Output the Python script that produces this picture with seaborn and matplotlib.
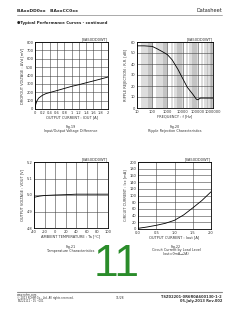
import matplotlib
matplotlib.use("Agg")
import matplotlib.pyplot as plt
import seaborn as sns
import numpy as np

# ---- data ----
fig19_iout = [0, 0.02, 0.05, 0.1, 0.2, 0.3, 0.4, 0.6, 0.8, 1.0, 1.2, 1.4, 1.6, 1.8, 2.0]
fig19_dv = [0, 55, 95, 130, 163, 184, 196, 220, 245, 270, 290, 313, 335, 358, 382]

fig20_freq = [10, 30, 100, 200, 500, 1000, 2000, 5000, 10000, 20000, 50000, 80000, 100000, 150000, 1000000]
fig20_rr = [56.5, 56.5, 56, 54, 51, 48.5, 44, 35, 27, 19, 12, 8, 7.5, 9, 9]

fig21_temp = [-40, -30, -20, 0, 20, 40, 60, 80, 100]
fig21_vout = [4.986, 4.993, 4.997, 5.0, 5.002, 5.005, 5.005, 5.005, 5.005]

fig22_iout = [0, 0.25, 0.5, 0.75, 1.0, 1.25, 1.5, 1.75, 2.0]
fig22_icc = [2, 6, 11, 17, 26, 42, 63, 85, 111]

fig19_xticks = [0, 0.2, 0.4, 0.6, 0.8, 1.0, 1.2, 1.4, 1.6, 1.8, 2.0]
fig19_xlabels = ["0", "0.2", "0.4", "0.6", "0.8", "1", "1.2", "1.4", "1.6", "1.8", "2"]
fig20_xticks = [10, 100, 1000, 10000, 100000, 1000000]
fig20_xlabels = ["10", "100", "1000", "10000", "100000", "1000000"]

sns.set_style("white")
plt.rcParams['font.family'] = ['DejaVu Sans', 'Noto Sans CJK JP']
plt.rcParams['axes.unicode_minus'] = False

W, H = 240, 310
fig = plt.figure(figsize=(W / 100, H / 100), dpi=100)
fig.patch.set_facecolor("white")


def box(x0, y0, x1, y1):
    return [x0 / W, 1 - y1 / H, (x1 - x0) / W, (y1 - y0) / H]


def fx(x, y):
    return x / W, 1 - y / H


FS = 2.6


def style(ax):
    for s in ax.spines.values():
        s.set_color("black")
        s.set_linewidth(0.6)
    ax.tick_params(length=0, pad=1.2, labelsize=FS, colors="#333333")
    ax.grid(True, which="major", color="#444444", linewidth=0.4)
    ax.set_axisbelow(True)


# Fig 19
ax1 = fig.add_axes(box(35, 42, 108, 109))
sns.lineplot(x=fig19_iout, y=fig19_dv, ax=ax1, color="black", linewidth=0.6, sort=False)
ax1.set_xlim(0, 2)
ax1.set_ylim(0, 800)
ax1.set_xticks(fig19_xticks)
ax1.set_xticklabels(fig19_xlabels)
ax1.set_yticks(range(0, 801, 100))
style(ax1)
ax1.set_xlabel("OUTPUT CURRENT : IOUT [A]", fontsize=FS, labelpad=0.8, color="#333333")
ax1.set_ylabel("DROPOUT VOLTAGE : ΔVd [mV]", fontsize=FS, labelpad=1.5, color="#333333")
ax1.text(1.0, 1.01, "[BA50DD0WT]", transform=ax1.transAxes, ha="right", va="bottom", fontsize=FS, color="#333333")

# Fig 20
ax2 = fig.add_axes(box(137, 42, 213, 108))
sns.lineplot(x=fig20_freq, y=fig20_rr, ax=ax2, color="black", linewidth=0.6, sort=False)
ax2.set_xscale("log")
ax2.set_xlim(10, 1000000)
ax2.set_ylim(0, 60)
ax2.set_yticks(range(0, 61, 10))
style(ax2)
ax2.set_xticks(fig20_xticks)
ax2.set_xticklabels(fig20_xlabels)
ax2.xaxis.set_minor_locator(matplotlib.ticker.LogLocator(base=10, subs=np.arange(2, 10)))
ax2.xaxis.set_minor_formatter(matplotlib.ticker.NullFormatter())
ax2.tick_params(which="minor", length=0)
ax2.grid(True, which="minor", axis="x", color="#777777", linewidth=0.35)
ax2.set_xlabel("FREQUENCY : f [Hz]", fontsize=FS, labelpad=0.8, color="#333333")
ax2.set_ylabel("RIPPLE REJECTION : R.R. [dB]", fontsize=FS, labelpad=1.5, color="#333333")
ax2.text(1.0, 1.01, "[BA50DD0WT]", transform=ax2.transAxes, ha="right", va="bottom", fontsize=FS, color="#333333")

# Fig 21
ax3 = fig.add_axes(box(34, 162, 108, 228))
sns.lineplot(x=fig21_temp, y=fig21_vout, ax=ax3, color="black", linewidth=0.6, sort=False)
ax3.set_xlim(-40, 100)
ax3.set_ylim(4.8, 5.2)
ax3.set_xticks(range(-40, 101, 20))
ax3.set_yticks([4.8, 4.9, 5.0, 5.1, 5.2])
ax3.set_yticklabels(["4.8", "4.9", "5.0", "5.1", "5.2"])
style(ax3)
ax3.set_xlabel("AMBIENT TEMPERATURE : Ta [°C]", fontsize=FS, labelpad=0.8, color="#333333")
ax3.set_ylabel("OUTPUT VOLTAGE : VOUT [V]", fontsize=FS, labelpad=1.5, color="#333333")
ax3.text(1.0, 1.01, "[BA50DD0WT]", transform=ax3.transAxes, ha="right", va="bottom", fontsize=FS, color="#333333")

# Fig 22
ax4 = fig.add_axes(box(138, 162, 211, 229))
sns.lineplot(x=fig22_iout, y=fig22_icc, ax=ax4, color="black", linewidth=0.6, sort=False)
ax4.set_xlim(0, 2)
ax4.set_ylim(0, 200)
ax4.set_xticks([0, 0.5, 1.0, 1.5, 2.0])
ax4.set_xticklabels(["0.0", "0.5", "1.0", "1.5", "2.0"])
ax4.set_yticks(range(0, 201, 20))
style(ax4)
ax4.set_xlabel("OUTPUT CURRENT : Iout [A]", fontsize=FS, labelpad=0.8, color="#333333")
ax4.set_ylabel("CIRCUIT CURRENT : Icc [mA]", fontsize=FS, labelpad=1.5, color="#333333")
ax4.text(1.0, 1.01, "[BA50DD0WT]", transform=ax4.transAxes, ha="right", va="bottom", fontsize=FS, color="#333333")

# Captions
cap = dict(ha="center", va="center", fontsize=2.4, color="#333333")
fig.text(*fx(71, 127), "Fig.19", **cap)
fig.text(*fx(71, 131), "Input/Output Voltage Difference", **cap)
fig.text(*fx(175, 127), "Fig.20", **cap)
fig.text(*fx(175, 131), "Ripple Rejection Characteristics", **cap)
fig.text(*fx(71, 247), "Fig.21", **cap)
fig.text(*fx(71, 251), "Temperature Characteristics", **cap)
fig.text(*fx(176, 247), "Fig.22", **cap)
fig.text(*fx(176, 250.5), "Circuit Current by Load Level", **cap)
fig.text(*fx(176, 254), "(Iout=0mA→2A)", **cap)

# Header
fig.text(*fx(17, 11), "BAxxDD0xx   BAxxCC0xx", ha="left", va="center", fontsize=3.2, fontweight="bold", color="#222222")
fig.text(*fx(222, 11), "Datasheet", ha="right", va="center", fontsize=3.6, color="#222222")
fig.add_artist(plt.Line2D([17 / W, 222 / W], [1 - 15 / H, 1 - 15 / H], color="#888888", linewidth=0.5))
fig.text(*fx(17, 23), "●Typical Performance Curves - continued", ha="left", va="center", fontsize=2.8, fontweight="bold", color="#222222")

# Big green page number
fig.text(*fx(117, 264), "11", ha="center", va="center", fontsize=32, color="#2a8c2a",
         family=["Liberation Sans", "DejaVu Sans"])

# Footer
fig.add_artist(plt.Line2D([17 / W, 222 / W], [1 - 292 / H, 1 - 292 / H], color="#888888", linewidth=0.8))
ft = dict(ha="left", va="center", fontsize=1.9, color="#333333")
fig.text(*fx(17, 294.5), "www.rohm.com", **ft)
fig.text(*fx(17, 297.5), "© 2013 ROHM Co., Ltd. All rights reserved.", **ft)
fig.text(*fx(17, 300.5), "TSZ22111・15・001", ha="left", va="center", fontsize=1.9, color="#333333",
         family=["DejaVu Sans", "Noto Sans CJK JP"])
fig.text(*fx(120, 298), "11/28", ha="center", va="center", fontsize=2.2, color="#333333")
fig.text(*fx(222, 297), "TSZ02201-0R6R0A600130-1-2", ha="right", va="center", fontsize=2.6, fontweight="bold", color="#333333")
fig.text(*fx(222, 301), "05.July.2013 Rev.002", ha="right", va="center", fontsize=2.6, fontweight="bold", color="#333333")

fig.savefig("out.png", dpi=100, facecolor="white")
